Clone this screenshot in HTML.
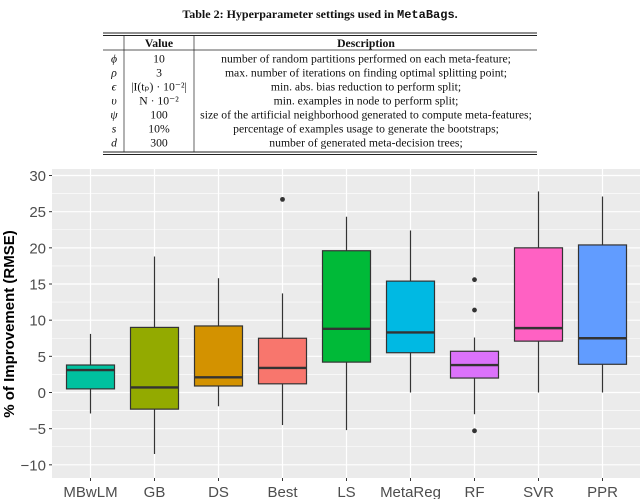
<!DOCTYPE html>
<html><head><meta charset="utf-8"><style>
body{margin:0;background:#fff;width:640px;height:499px;overflow:hidden}
svg{display:block}
.tb{font-family:"Liberation Serif",serif;font-size:11.7px;fill:#111}
</style></head><body>
<svg id="root" width="640" height="499">
<g>
<text x="320" y="18" text-anchor="middle" class="tb" style="font-size:12px;font-weight:bold">Table 2: Hyperparameter settings used in <tspan font-family="Liberation Mono">MetaBags</tspan>.</text>
<line x1="103" x2="537" y1="33" y2="33" stroke="#222" stroke-width="1"/>
<line x1="103" x2="537" y1="35.5" y2="35.5" stroke="#222" stroke-width="1"/>
<line x1="103" x2="537" y1="50" y2="50" stroke="#222" stroke-width="0.7"/>
<line x1="103" x2="537" y1="152" y2="152" stroke="#222" stroke-width="1"/>
<line x1="103" x2="537" y1="154.5" y2="154.5" stroke="#222" stroke-width="1"/>
<line x1="124" x2="124" y1="35.5" y2="152" stroke="#222" stroke-width="0.7"/>
<line x1="194" x2="194" y1="35.5" y2="152" stroke="#222" stroke-width="0.7"/>
<text x="159" y="47" text-anchor="middle" class="tb" font-weight="bold" font-size="12.5">Value</text>
<text x="366" y="47" text-anchor="middle" class="tb" font-weight="bold" font-size="12.5">Description</text>
<g id="rows"></g>
</g>
<g id="chart"></g>
</svg>
<script>
const NS="http://www.w3.org/2000/svg";
const rowsSym=["ϕ","ρ","ϵ","υ","ψ","s","d"];
const rowsVal=["10","3","|I(tₚ) · 10⁻²|","N · 10⁻²","100","10%","300"];
const rowsDesc=["number of random partitions performed on each meta-feature;","max. number of iterations on finding optimal splitting point;","min. abs. bias reduction to perform split;","min. examples in node to perform split;","size of the artificial neighborhood generated to compute meta-features;","percentage of examples usage to generate the bootstraps;","number of generated meta-decision trees;"];
function el(t,a,p){const e=document.createElementNS(NS,t);for(const k in a)e.setAttribute(k,a[k]);p.appendChild(e);return e;}
const rg=document.getElementById('rows');
rowsSym.forEach((s,i)=>{
 const ry=62.5+i*14;
 const r=el('g',{},rg);
 
 
 el('text',{x:114,y:ry,'text-anchor':'middle',class:'tb','font-style':'italic'},r).textContent=s;
 el('text',{x:159,y:ry,'text-anchor':'middle',class:'tb'},r).textContent=rowsVal[i];
 el('text',{x:366,y:ry,'text-anchor':'middle',class:'tb'},r).textContent=rowsDesc[i];
});

const categories=["MBwLM","GB","DS","Best","LS","MetaReg","RF","SVR","PPR"];
const lowW=[-2.9,-8.5,-1.9,-4.5,-5.2,0,-3.0,0,0];
const q1=[0.5,-2.3,0.9,1.2,4.2,5.5,2.0,7.1,3.9];
const med=[3.1,0.7,2.1,3.4,8.8,8.3,3.8,8.9,7.5];
const q3=[3.8,9.0,9.2,7.5,19.6,15.4,5.7,20.0,20.4];
const highW=[8.1,18.8,15.8,13.7,24.3,22.4,7.6,27.8,27.1];
const outliers=[[],[],[],[26.7],[],[],[15.6,11.4,-5.3],[],[]];
const colors=["#00C19F","#93AA00","#D39200","#F8766D","#00BA38","#00B9E3","#DB72FB","#FF61C3","#619CFF"];
const yTicks=[-10,-5,0,5,10,15,20,25,30];

const L=52,R=640,T=169,B=478;
const y=v=>392.5-v*7.233;
const x=i=>90.5+i*64;
const c=document.getElementById('chart');
const bg=el('rect',{x:L,y:T,width:R-L,height:B-T,fill:'#EBEBEB'},c);


yTicks.forEach((t,i)=>{
 if(i<yTicks.length-1) el('line',{x1:L,x2:R,y1:y(t+2.5),y2:y(t+2.5),stroke:'#fff','stroke-width':0.6},c);
 el('line',{x1:L,x2:R,y1:y(t),y2:y(t),stroke:'#fff','stroke-width':1.2},c);
 el('line',{x1:L-3,x2:L,y1:y(t),y2:y(t),stroke:'#333','stroke-width':1},c);
 const tx=el('text',{x:L-6,y:y(t)+5.5,'text-anchor':'end','font-family':'Liberation Sans, sans-serif','font-size':15,fill:'#4D4D4D'},c);
 tx.textContent=t<0?'−'+(-t):String(t);
 
 
});
categories.forEach((cat,i)=>{
 el('line',{x1:x(i),x2:x(i),y1:T,y2:B,stroke:'#fff','stroke-width':1.2},c);
 el('line',{x1:x(i),x2:x(i),y1:B,y2:B+3,stroke:'#333','stroke-width':1},c);
 const tx=el('text',{x:x(i),y:497,'text-anchor':'middle','font-family':'Liberation Sans, sans-serif','font-size':15,fill:'#4D4D4D'},c);
 tx.textContent=cat;
 
 
});
categories.forEach((cat,i)=>{
 const g=el('g',{},c);
 
 
 el('line',{x1:x(i),x2:x(i),y1:y(highW[i]),y2:y(q3[i]),stroke:'#333','stroke-width':1.2},g);
 el('line',{x1:x(i),x2:x(i),y1:y(q1[i]),y2:y(lowW[i]),stroke:'#333','stroke-width':1.2},g);
 el('rect',{x:x(i)-24,y:y(q3[i]),width:48,height:y(q1[i])-y(q3[i]),fill:colors[i],stroke:'#333','stroke-width':1.2},g);
 el('line',{x1:x(i)-24,x2:x(i)+24,y1:y(med[i]),y2:y(med[i]),stroke:'#333','stroke-width':2.4},g);
 outliers[i].forEach(o=>el('circle',{cx:x(i),cy:y(o),r:2.4,fill:'#333'},g));
});
const yt=el('text',{transform:'translate(14,324) rotate(-90)','text-anchor':'middle','font-family':'Liberation Sans, sans-serif','font-size':15,'font-weight':'bold',fill:'#000'},c);
yt.textContent='% of Improvement (RMSE)';


</script>
</body></html>
